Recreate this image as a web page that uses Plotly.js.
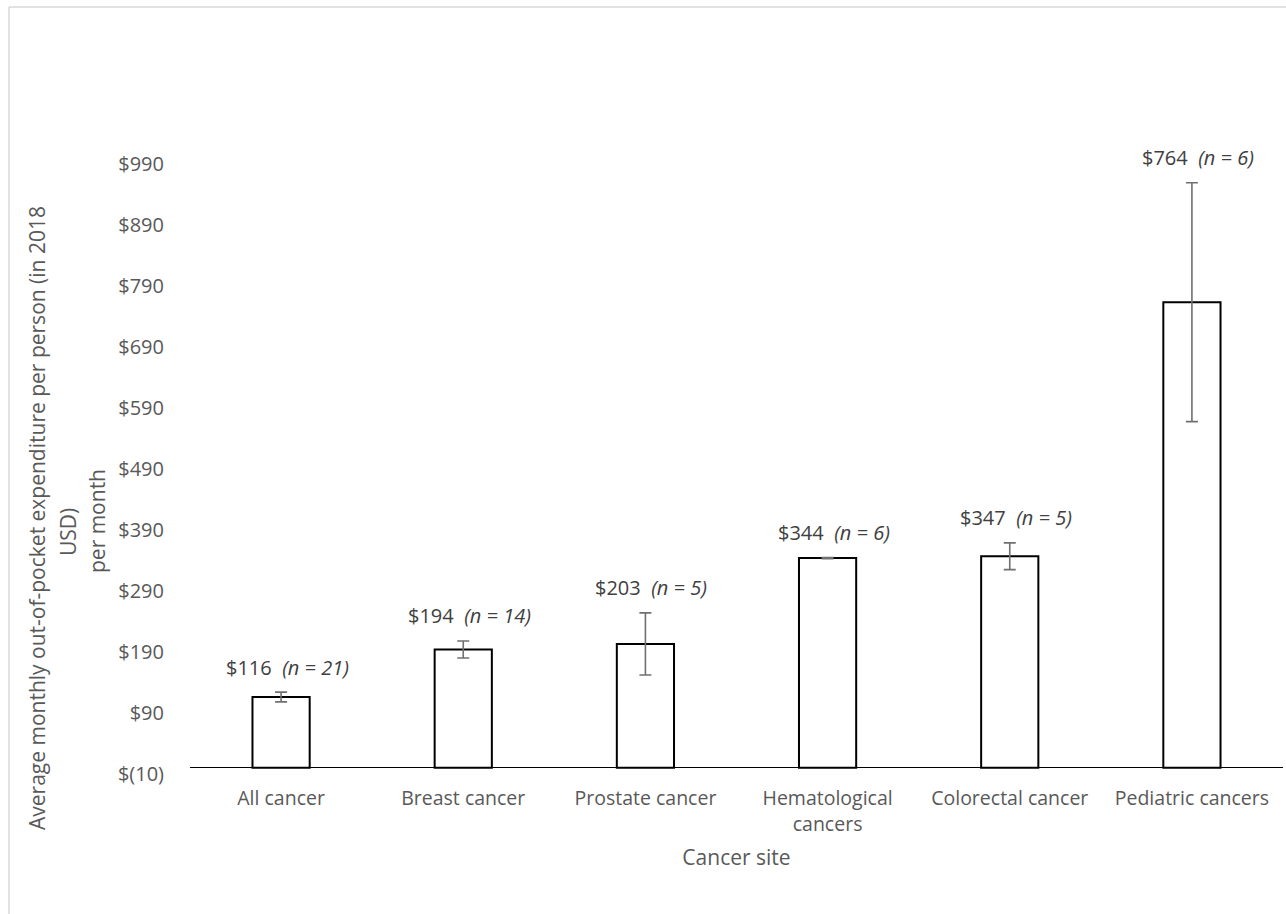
<!DOCTYPE html>
<html>
<head>
<meta charset="utf-8">
<script src="https://cdn.plot.ly/plotly-3.0.1.min.js"></script>
<style>html,body{margin:0;padding:0;background:#fff;}#chart{width:1286px;height:914px;}</style>
</head>
<body>
<div id="chart"></div>
<script>
var categories = ["All cancer", "Breast cancer", "Prostate cancer", "Hematological<br>cancers", "Colorectal cancer", "Pediatric cancers"];
var values = [116, 194, 203, 344, 347, 764];
var errors = [8, 14, 51, 1, 22, 196];
var sampleSizes = [21, 14, 5, 6, 5, 6];
var tickValues = [-10, 90, 190, 290, 390, 490, 590, 690, 790, 890, 990];
var tickLabels = ["$(10)", "$90", "$190", "$290", "$390", "$490", "$590", "$690", "$790", "$890", "$990"];

var FONT = "Open Sans, sans-serif";
var AXIS_COLOR = "#595959";

var trace = {
  type: "bar",
  x: categories,
  y: values,
  marker: {color: "#ffffff", line: {color: "#000000", width: 2}},
  error_y: {type: "data", array: errors, visible: true, color: "#707070", thickness: 1.6, width: 6},
  hoverinfo: "none"
};

var annotations = categories.map(function (c, i) {
  return {
    x: c, y: values[i] + errors[i], xref: "x", yref: "y",
    text: "$" + values[i] + "&nbsp;&nbsp;<i>(n = " + sampleSizes[i] + ")</i>",
    showarrow: false, yanchor: "middle", xanchor: "center",
    yshift: 25, xshift: 6,
    font: {family: FONT, size: 20, color: "#404040"}
  };
});

// y-axis title lines
var plotL = 190, plotW = 1093, plotB = 775, plotH = 675;
function px(x) { return (x - plotL) / plotW; }
function py(y) { return (plotB - y) / plotH; }
annotations.push({
  xref: "paper", yref: "paper", x: px(37), y: py(518), textangle: -90,
  text: "Average monthly out-of-pocket expenditure per person (in 2018",
  showarrow: false, xanchor: "center", yanchor: "middle",
  font: {family: FONT, size: 21, color: AXIS_COLOR}
});
annotations.push({
  xref: "paper", yref: "paper", x: px(68), y: py(532), textangle: -90,
  text: "USD)", showarrow: false, xanchor: "center", yanchor: "middle",
  font: {family: FONT, size: 21, color: AXIS_COLOR}
});
annotations.push({
  xref: "paper", yref: "paper", x: px(97), y: py(521), textangle: -90,
  text: "per month", showarrow: false, xanchor: "center", yanchor: "middle",
  font: {family: FONT, size: 21, color: AXIS_COLOR}
});

var layout = {
  width: 1286, height: 914,
  margin: {l: 190, r: 3, t: 100, b: 139},
  paper_bgcolor: "#ffffff", plot_bgcolor: "#ffffff",
  showlegend: false,
  bargap: 0.686,
  font: {family: FONT, size: 20, color: AXIS_COLOR},
  xaxis: {
    showgrid: false, showline: false, zeroline: false,
    ticks: "outside", ticklen: 6, tickcolor: "rgba(0,0,0,0)",
    tickfont: {family: FONT, size: 19.5, color: AXIS_COLOR},
    title: {text: "Cancer site", font: {family: FONT, size: 21, color: AXIS_COLOR}, standoff: 14},
    fixedrange: true
  },
  yaxis: {
    range: [-12, 1095.8],
    tickmode: "array", tickvals: tickValues, ticktext: tickLabels,
    showgrid: false, showline: false,
    zeroline: true, zerolinecolor: "#000000", zerolinewidth: 1.5,
    ticks: "outside", ticklen: 21, tickcolor: "rgba(0,0,0,0)",
    tickfont: {family: FONT, size: 20, color: AXIS_COLOR},
    fixedrange: true
  },
  annotations: annotations,
  shapes: [
    {type: "line", xref: "paper", yref: "paper", x0: px(9), x1: px(9), y0: py(7), y1: py(914), line: {color: "#d9d9d9", width: 1.5}},
    {type: "line", xref: "paper", yref: "paper", x0: px(9), x1: px(1290), y0: py(7), y1: py(7), line: {color: "#d9d9d9", width: 1.5}}
  ]
};

Plotly.newPlot("chart", [trace], layout, {displayModeBar: false, staticPlot: true});
</script>
</body>
</html>
